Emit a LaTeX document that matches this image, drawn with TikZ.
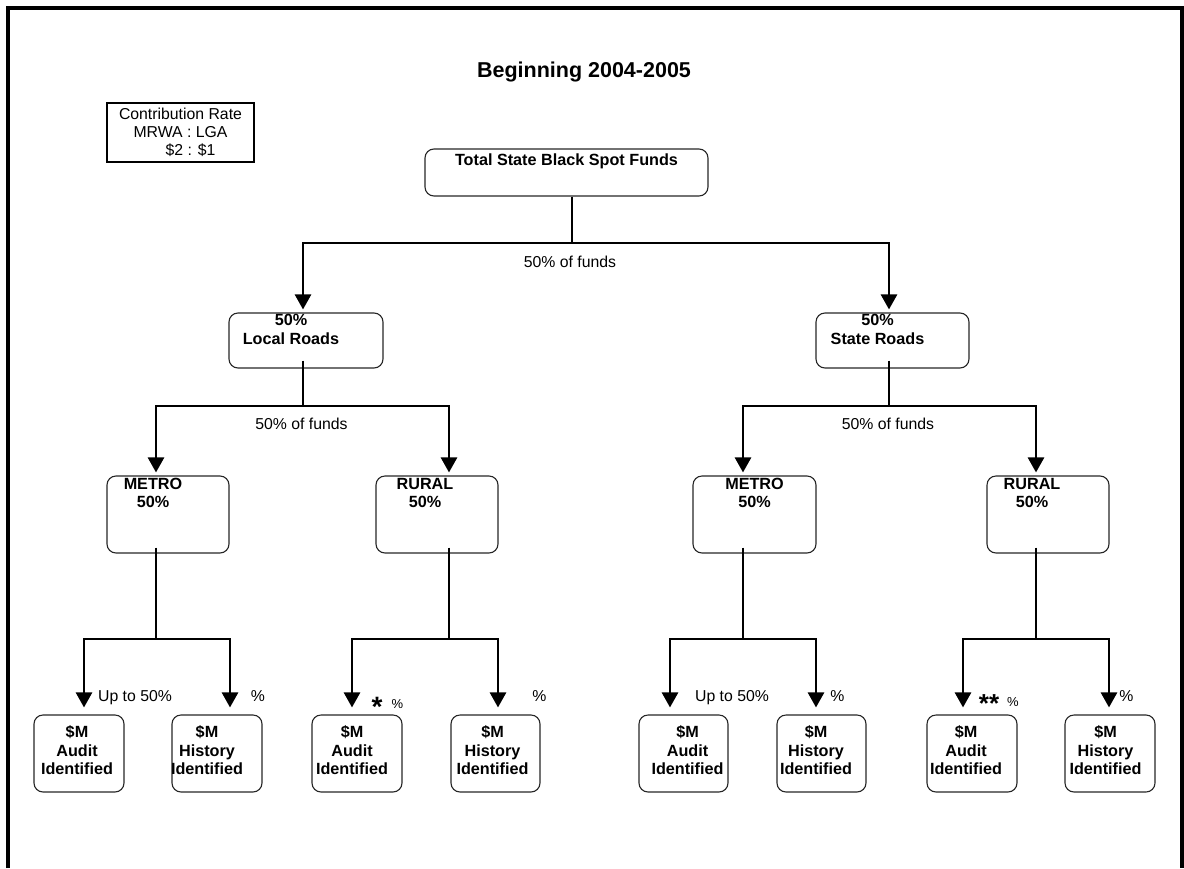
\documentclass[tikz,border=0pt]{standalone}
\usepackage{fontspec}
\setmainfont{Liberation Sans}
\usetikzlibrary{arrows.meta}

\begin{document}
\begin{tikzpicture}[x=1pt, y=-1pt,
  rb/.style={draw=black!85, line width=1.1pt, rounded corners=9pt, inner sep=0pt},
  sq/.style={draw, line width=1.3pt, inner sep=0pt, align=center, font=\fontsize{15.8}{18}\selectfont},
  lab/.style={anchor=north, align=center, inner sep=0pt, font=\bfseries\fontsize{16.2}{18.5}\selectfont},
  tx/.style={anchor=base, inner sep=0pt, font=\fontsize{15.8}{18}\selectfont},
  stm/.style={line width=1.8pt},
  ar/.style={line width=2.6pt, -{Triangle[width=16pt,length=15pt]}}]
	\useasboundingbox (0,0) rectangle (1184,868);
	\draw[line width=3.5pt] (8,868) -- (8,8) -- (1182,8) -- (1182,868);

	\node[anchor=base, font=\bfseries\fontsize{21.5}{24}\selectfont] (ttl) at (584,77) {Beginning 2004-2005};
	\node[sq, minimum width=147pt, minimum height=59pt] (rate) at (180.5,132.5) {Contribution Rate\\MRWA : LGA\\\hspace*{20pt}\$2 : \$1};

	% boxes
	\node[rb, minimum width=283pt, minimum height=47pt, label={[lab, yshift=-5.5pt]north:Total State Black Spot Funds}] (tot) at (566.5,172.5) {};
	\node[rb, minimum width=154pt, minimum height=55pt, label={[lab, xshift=-15pt, yshift=-2pt]north:50\%\\Local Roads}] (loc) at (306,340.5) {};
	\node[rb, minimum width=153pt, minimum height=55pt, label={[lab, xshift=-15pt, yshift=-2pt]north:50\%\\State Roads}] (sta) at (892.5,340.5) {};

	\node[rb, minimum width=122pt, minimum height=77pt, label={[lab, xshift=-15pt, yshift=-2.5pt]north:METRO\\50\%}] (metL) at (168,514.5) {};
	\node[rb, minimum width=122pt, minimum height=77pt, label={[lab, xshift=-12pt, yshift=-2.5pt]north:RURAL\\50\%}] (rurL) at (437,514.5) {};
	\node[rb, minimum width=123pt, minimum height=77pt, label={[lab, yshift=-2.5pt]north:METRO\\50\%}] (metR) at (754.5,514.5) {};
	\node[rb, minimum width=122pt, minimum height=77pt, label={[lab, xshift=-16pt, yshift=-2.5pt]north:RURAL\\50\%}] (rurR) at (1048,514.5) {};

	\node[rb, minimum width=90pt, minimum height=77pt, label={[lab, xshift=-2pt, yshift=-11pt]north:\$M\\Audit\\Identified}] (aL1) at (79,753.5) {};
	\node[rb, minimum width=90pt, minimum height=77pt, label={[lab, xshift=-10pt, yshift=-11pt]north:\$M\\History\\Identified}] (hL1) at (217,753.5) {};
	\node[rb, minimum width=90pt, minimum height=77pt, label={[lab, xshift=-5pt, yshift=-11pt]north:\$M\\Audit\\Identified}] (aL2) at (357,753.5) {};
	\node[rb, minimum width=89pt, minimum height=77pt, label={[lab, xshift=-3pt, yshift=-11pt]north:\$M\\History\\Identified}] (hL2) at (495.5,753.5) {};
	\node[rb, minimum width=89pt, minimum height=77pt, label={[lab, xshift=4pt, yshift=-11pt]north:\$M\\Audit\\Identified}] (aR1) at (683.5,753.5) {};
	\node[rb, minimum width=89pt, minimum height=77pt, label={[lab, xshift=-5.5pt, yshift=-11pt]north:\$M\\History\\Identified}] (hR1) at (821.5,753.5) {};
	\node[rb, minimum width=90pt, minimum height=77pt, label={[lab, xshift=-6pt, yshift=-11pt]north:\$M\\Audit\\Identified}] (aR2) at (972,753.5) {};
	\node[rb, minimum width=90pt, minimum height=77pt, label={[lab, xshift=-4.5pt, yshift=-11pt]north:\$M\\History\\Identified}] (hR2) at (1110,753.5) {};

	% labels
	\node[tx] (f0) at (570,267) {50\% of funds};
	\node[tx] (f1) at (301.5,429) {50\% of funds};
	\node[tx] (f2) at (888,429) {50\% of funds};
	\node[tx] (u1) at (135,701) {Up to 50\%};
	\node[tx] (p1) at (258,701) {\%};
	\node[tx, font=\bfseries\fontsize{28}{30}\selectfont] (st1) at (377,716) {*};
	\node[tx, font=\fontsize{13}{15}\selectfont] (p2) at (397.5,708) {\%};
	\node[tx] (p3) at (539.5,701) {\%};
	\node[tx] (u2) at (732,701) {Up to 50\%};
	\node[tx] (p4) at (837.5,701) {\%};
	\node[tx, font=\bfseries\fontsize{26}{28}\selectfont] (st2) at (989,712) {**};
	\node[tx, font=\fontsize{13}{15}\selectfont] (p5) at (1013,706) {\%};
	\node[tx] (p6) at (1126.5,701) {\%};

	% connectors
	\coordinate (tj) at (572,243);
	\draw[stm] (tot.south -| tj) -- (tj);
	\draw[ar] (tj) -| ([xshift=-3pt, yshift=3pt]loc.north);
	\draw[ar] (tj) -| ([xshift=-3.5pt, yshift=3pt]sta.north);

	\coordinate (lj) at (303,406);
	\draw[stm] ([yshift=8pt]loc.south -| lj) -- (lj);
	\draw[ar] (lj) -| ([xshift=-12pt, yshift=3pt]metL.north);
	\draw[ar] (lj) -| ([xshift=12pt, yshift=3pt]rurL.north);
	\coordinate (sj) at (889,406);
	\draw[stm] ([yshift=8pt]sta.south -| sj) -- (sj);
	\draw[ar] (sj) -| ([xshift=-11.5pt, yshift=3pt]metR.north);
	\draw[ar] (sj) -| ([xshift=-12pt, yshift=3pt]rurR.north);

	\coordinate (mlj) at (156,639);
	\draw[stm] ([yshift=6pt]metL.south -| mlj) -- (mlj);
	\draw[ar] (mlj) -| ([xshift=5pt, yshift=7pt]aL1.north);
	\draw[ar] (mlj) -| ([xshift=13pt, yshift=7pt]hL1.north);
	\coordinate (rlj) at (449,639);
	\draw[stm] ([yshift=6pt]rurL.south -| rlj) -- (rlj);
	\draw[ar] (rlj) -| ([xshift=-5pt, yshift=7pt]aL2.north);
	\draw[ar] (rlj) -| ([xshift=2.5pt, yshift=7pt]hL2.north);
	\coordinate (mrj) at (743,639);
	\draw[stm] ([yshift=6pt]metR.south -| mrj) -- (mrj);
	\draw[ar] (mrj) -| ([xshift=-13.5pt, yshift=7pt]aR1.north);
	\draw[ar] (mrj) -| ([xshift=-5.5pt, yshift=7pt]hR1.north);
	\coordinate (rrj) at (1036,639);
	\draw[stm] ([yshift=6pt]rurR.south -| rrj) -- (rrj);
	\draw[ar] (rrj) -| ([xshift=-9pt, yshift=7pt]aR2.north);
	\draw[ar] (rrj) -| ([xshift=-1pt, yshift=7pt]hR2.north);
\end{tikzpicture}
\end{document}
